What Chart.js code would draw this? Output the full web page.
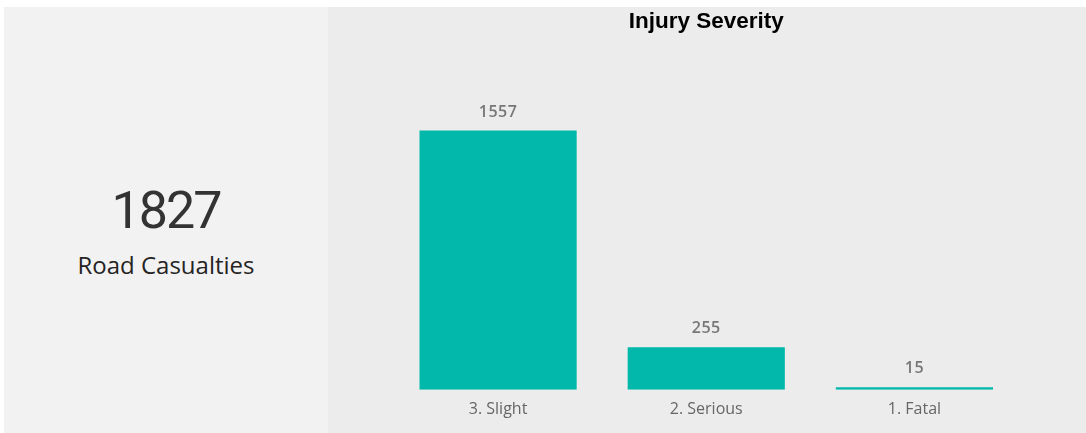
<!DOCTYPE html>
<html>
<head>
<meta charset="utf-8">
<script src="https://cdn.jsdelivr.net/npm/chart.js@4"></script>
<style>
  html, body { margin: 0; padding: 0; background: #ffffff; width: 1086px; height: 433px; overflow: hidden; }
  #left { position: absolute; left: 4px; top: 7px; width: 324px; height: 426px; background: #f2f2f2; }
  #right { position: absolute; left: 328px; top: 7px; width: 758px; height: 426px; background: #ececec; }
  #kpi { position: absolute; left: 0; width: 324px; top: 178px; text-align: center;
         font-family: Roboto, sans-serif; font-size: 52px; line-height: 52px; color: #333333; letter-spacing: -2px; }
  #kpiLabel { position: absolute; left: 0; width: 324px; top: 246px; text-align: center;
         font-family: "Open Sans", sans-serif; font-size: 24px; line-height: 24px; color: #252423; }
  #cwrap { position: absolute; left: 0; top: 0; width: 758px; height: 426px; }
</style>
</head>
<body>
<div id="left">
  <div id="kpi"></div>
  <div id="kpiLabel"></div>
</div>
<div id="right">
  <div id="cwrap"><canvas id="c" width="758" height="426"></canvas></div>
</div>
<script>
const kpiValue = "1827";
const kpiText = "Road Casualties";
const chartTitle = "Injury Severity";
const categories = ["3. Slight", "2. Serious", "1. Fatal"];
const casualties = [1557, 255, 15];

document.getElementById('kpi').textContent = kpiValue;
document.getElementById('kpiLabel').textContent = kpiText;

const valueLabels = {
  id: 'valueLabels',
  afterDatasetsDraw(chart) {
    const ctx = chart.ctx;
    const meta = chart.getDatasetMeta(0);
    ctx.save();
    ctx.font = '600 16px "Open Sans", sans-serif';
    if ('letterSpacing' in ctx) ctx.letterSpacing = '0.5px';
    ctx.fillStyle = '#777777';
    ctx.textAlign = 'center';
    ctx.textBaseline = 'middle';
    meta.data.forEach((bar, i) => {
      ctx.fillText(String(chart.data.datasets[0].data[i]), bar.x, bar.y - 18.5);
    });
    ctx.restore();
  }
};

new Chart(document.getElementById('c'), {
  type: 'bar',
  data: {
    labels: categories,
    datasets: [{
      data: casualties,
      backgroundColor: '#01b8aa',
      borderWidth: 0,
      barPercentage: 0.755,
      categoryPercentage: 1.0
    }]
  },
  options: {
    responsive: false,
    animation: false,
    devicePixelRatio: 1,
    layout: { padding: { left: 66, right: 67.5, top: 0, bottom: 12 } },
    plugins: {
      legend: { display: false },
      tooltip: { enabled: false },
      title: {
        display: true,
        text: chartTitle,
        color: '#000000',
        font: { family: '"Liberation Sans", Arial, sans-serif', size: 22.5, weight: 'bold' },
        padding: { top: 1, bottom: 55 }
      }
    },
    scales: {
      x: {
        grid: { display: false },
        border: { display: false },
        ticks: {
          color: '#666666',
          padding: 2,
          font: { family: '"Open Sans", sans-serif', size: 16 }
        }
      },
      y: {
        display: false,
        min: 0,
        max: 1800
      }
    }
  },
  plugins: [valueLabels]
});
</script>
</body>
</html>
